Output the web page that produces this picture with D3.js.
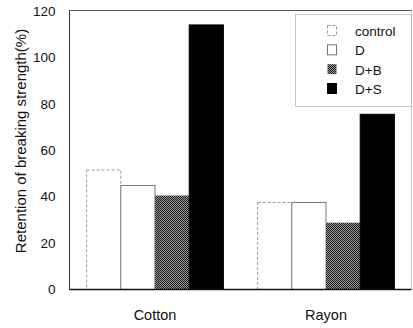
<!DOCTYPE html>
<html><head><meta charset="utf-8">
<script src="https://cdn.jsdelivr.net/npm/d3@7"></script>
<style>body{margin:0;background:#fff;}svg{display:block;}text{font-family:"Liberation Sans",Arial,sans-serif;fill:#111;}</style>
</head><body><svg id="c" width="413" height="328"></svg>
<script>
const categories = ["Cotton", "Rayon"];
const seriesNames = ["control", "D", "D+B", "D+S"];
const control = [51.5, 37.5];
const dOnly = [44.8, 37.5];
const dB = [40.5, 28.8];
const dS = [114, 75.5];
const yTicks = [0, 20, 40, 60, 80, 100, 120];
const yTitle = "Retention of breaking strength(%)";

const seriesValues = [control, dOnly, dB, dS];
const m = {l: 69.5, r: 411.5, t: 10.5, b: 289.5};
const svg = d3.select("#c");

const defs = svg.append("defs");
const pat = defs.append("pattern").attr("id","dith").attr("width",2).attr("height",2).attr("patternUnits","userSpaceOnUse");
pat.append("rect").attr("width",2).attr("height",2).attr("fill","#999");
pat.append("rect").attr("width",1).attr("height",1).attr("fill","#1a1a1a");
pat.append("rect").attr("x",1).attr("y",1).attr("width",1).attr("height",1).attr("fill","#1a1a1a");

const x0 = d3.scaleBand().domain(categories).range([m.l, m.r]).paddingInner(0.2).paddingOuter(0.1);
const x1 = d3.scaleBand().domain(seriesNames).range([0, x0.bandwidth()]);
const y = d3.scaleLinear().domain([0, 120]).range([m.b, 11]);

const styles = {
  "control": {fill:"#fff", stroke:"#999", dash:"3,2"},
  "D": {fill:"#fff", stroke:"#777", dash:null},
  "D+B": {fill:"url(#dith)", stroke:"none", dash:null},
  "D+S": {fill:"#000", stroke:"#000", dash:null}
};

// frame
svg.append("rect").attr("x", m.l).attr("y", m.t).attr("width", m.r - m.l).attr("height", m.b - m.t)
  .attr("fill","none").attr("stroke","#ccc").attr("stroke-width",1);
svg.append("line").attr("x1",m.l).attr("x2",m.l).attr("y1",m.t).attr("y2",m.b).attr("stroke","#333");
svg.append("line").attr("x1",m.l).attr("x2",m.r).attr("y1",m.t).attr("y2",m.t).attr("stroke","#555");

// bars
seriesNames.forEach((s, si) => {
  const st = styles[s];
  svg.append("g").selectAll("rect").data(categories).join("rect")
    .attr("x", c => x0(c) + x1(s))
    .attr("y", (c, i) => y(seriesValues[si][i]))
    .attr("width", x1.bandwidth())
    .attr("height", (c, i) => y(0) - y(seriesValues[si][i]))
    .attr("fill", st.fill)
    .attr("stroke", st.stroke)
    .attr("stroke-dasharray", st.dash);
});

// bottom axis line
svg.append("line").attr("x1",m.l).attr("x2",m.r).attr("y1",m.b).attr("y2",m.b).attr("stroke","#111").attr("stroke-width",1.3);

// y axis labels
const yAxis = d3.axisLeft(y).tickValues(yTicks).tickSize(0).tickPadding(14);
const gy = svg.append("g").attr("transform", `translate(${m.l},0)`).call(yAxis);
gy.select(".domain").remove();
gy.selectAll("text").style("font-size","13.5px").style("font-family","'Liberation Sans',Arial,sans-serif").attr("fill","#111");

// x axis labels
const xAxis = d3.axisBottom(x0).tickSize(0).tickPadding(20);
const gx = svg.append("g").attr("transform", `translate(0,${m.b})`).call(xAxis);
gx.select(".domain").remove();
gx.selectAll("text").style("font-size","14.5px").style("font-family","'Liberation Sans',Arial,sans-serif").attr("fill","#111");

// y title
svg.append("text").attr("transform", `translate(26,141) rotate(-90)`)
  .attr("text-anchor","middle").style("font-size","15px").text(yTitle);

// legend
const lg = svg.append("g");
lg.append("rect").attr("x",295.5).attr("y",14.5).attr("width",116).attr("height",92)
  .attr("fill","#fff").attr("stroke","#888").attr("stroke-dasharray","1,1");
const ly = d3.scalePoint().domain(seriesNames).range([31, 89]);
seriesNames.forEach(s => {
  const st = styles[s];
  lg.append("rect").attr("x",327.5).attr("y",ly(s)-5.5).attr("width",9).attr("height",10)
    .attr("fill",st.fill).attr("stroke",st.stroke).attr("stroke-dasharray",st.dash);
  lg.append("text").attr("x",355).attr("y",ly(s)+5).style("font-size","13.5px").text(s);
});
</script></body></html>
